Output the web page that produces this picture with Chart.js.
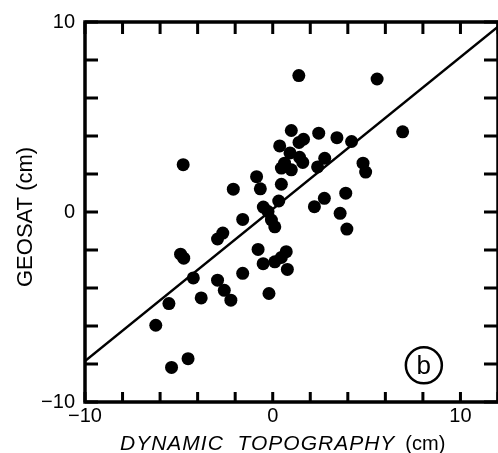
<!DOCTYPE html>
<html>
<head>
<meta charset="utf-8">
<title>GEOSAT vs dynamic topography</title>
<script src="https://cdn.jsdelivr.net/npm/chart.js@4.4.1/dist/chart.umd.min.js"></script>
<style>
  html, body { margin: 0; padding: 0; background: #fff; }
  #chart { display: block; }
</style>
</head>
<body>
<canvas id="chart" width="498" height="453"></canvas>
<script>
// dynamic topography (cm) vs GEOSAT (cm)
const dynTopo = [
  -4.77, -2.10, -0.86, -0.66, 0.46, 0.46, -1.60, -0.25, -0.50, -0.07,
  0.11, -2.66, -2.94, -4.91, -4.74, -0.78, -0.51, 0.11, -1.60, -4.23,
  -2.94, -2.58, -2.23, -3.81, -5.53, -6.23, -0.20, -4.51, -5.39, 0.72,
  0.46, 0.78, 0.99, 1.40, 1.64, 2.45, 3.42, 4.20, 6.92, 1.39,
  5.56, 0.37, 0.92, 0.63, 0.99, 1.43, 1.60, 2.77, 2.39, 4.81,
  4.95, 0.32, 2.22, 2.75, 3.89, 3.59, 3.95
];
const geosat = [
  2.49, 1.20, 1.86, 1.22, 2.31, 1.46, -0.39, 0.02, 0.26, -0.42,
  -0.78, -1.11, -1.42, -2.22, -2.43, -1.97, -2.72, -2.62, -3.23, -3.47,
  -3.59, -4.12, -4.64, -4.52, -4.82, -5.96, -4.29, -7.72, -8.18, -2.09,
  -2.39, -3.02, 4.29, 3.66, 3.83, 4.15, 3.91, 3.71, 4.22, 7.18,
  7.00, 3.48, 3.11, 2.57, 2.22, 2.88, 2.61, 2.83, 2.37, 2.57,
  2.10, 0.58, 0.28, 0.72, 0.99, -0.07, -0.90
];

// fitted line end points
const fitX = [-10, 12];
const fitY = [-7.85, 9.75];

const xRange = [-10, 12];
const yRange = [-10, 10];
const labeledTicks = [-10, 0, 10];

const xTitle = 'DYNAMIC  TOPOGRAPHY';
const yTitle = 'GEOSAT (cm)';
const unitText = '(cm)';
const panelLetter = 'b';
const panelPos = { x: 8.05, y: -8.07 };

const FONT = '"Liberation Sans", Arial, sans-serif';

function tickLabel(value) {
  if (!labeledTicks.includes(value)) return '';
  return value < 0 ? '\u2212' + Math.abs(value) : String(value);
}

// frame with inward ticks, axis titles and the circled panel letter
const framePlugin = {
  id: 'frame',
  afterDraw(chart) {
    const { ctx, chartArea: a, scales } = chart;
    const xs = scales.x, ys = scales.y;
    ctx.save();
    ctx.strokeStyle = '#000';
    ctx.lineWidth = 3.5;
    ctx.strokeRect(a.left, a.top, a.right - a.left, a.bottom - a.top);

    ctx.lineWidth = 3;
    ctx.beginPath();
    xs.ticks.forEach(t => {
      const px = xs.getPixelForValue(t.value);
      ctx.moveTo(px, a.bottom); ctx.lineTo(px, a.bottom - 10);
      ctx.moveTo(px, a.top); ctx.lineTo(px, a.top + 12);
    });
    ys.ticks.forEach(t => {
      const py = ys.getPixelForValue(t.value);
      ctx.moveTo(a.left, py); ctx.lineTo(a.left + 13, py);
      ctx.moveTo(a.right, py); ctx.lineTo(a.right - 14, py);
    });
    ctx.stroke();

    // x title: italic words, upright unit
    ctx.fillStyle = '#000';
    ctx.textBaseline = 'alphabetic';
    ctx.textAlign = 'left';
    ctx.font = 'italic 21px ' + FONT;
    if ('letterSpacing' in ctx) ctx.letterSpacing = '1px';
    ctx.fillText(xTitle, 120, 450);
    const w = ctx.measureText(xTitle).width;
    ctx.font = '20px ' + FONT;
    if ('letterSpacing' in ctx) ctx.letterSpacing = '0px';
    ctx.fillText(unitText, 120 + w + 10, 450);

    // y title, rotated
    ctx.save();
    ctx.translate(32, 287);
    ctx.rotate(-Math.PI / 2);
    ctx.font = '22px ' + FONT;
    ctx.fillText(yTitle, 0, 0);
    ctx.restore();

    // circled panel letter
    const cx = xs.getPixelForValue(panelPos.x);
    const cy = ys.getPixelForValue(panelPos.y);
    ctx.lineWidth = 2.5;
    ctx.beginPath();
    ctx.arc(cx, cy, 18, 0, Math.PI * 2);
    ctx.stroke();
    ctx.font = '26px ' + FONT;
    ctx.textAlign = 'center';
    ctx.textBaseline = 'middle';
    ctx.fillText(panelLetter, cx, cy + 1);
    ctx.restore();
  }
};

const ctx = document.getElementById('chart').getContext('2d');
new Chart(ctx, {
  type: 'scatter',
  data: {
    datasets: [
      {
        label: 'GEOSAT',
        data: dynTopo.map((x, i) => ({ x: x, y: geosat[i] })),
        pointRadius: 6.5,
        pointBackgroundColor: '#000',
        pointBorderWidth: 0,
        borderColor: '#000'
      },
      {
        type: 'line',
        label: 'fit',
        data: fitX.map((x, i) => ({ x: x, y: fitY[i] })),
        borderColor: '#000',
        borderWidth: 2.5,
        pointRadius: 0,
        fill: false
      }
    ]
  },
  options: {
    responsive: false,
    animation: false,
    devicePixelRatio: 1,
    layout: { autoPadding: false, padding: { top: 22, right: 0, bottom: 0, left: 0 } },
    plugins: {
      legend: { display: false },
      tooltip: { enabled: false }
    },
    scales: {
      x: {
        type: 'linear',
        min: xRange[0],
        max: xRange[1],
        grid: { display: false, drawTicks: false },
        border: { display: false },
        ticks: {
          stepSize: 2,
          autoSkip: false,
          maxRotation: 0,
          padding: 2,
          color: '#000',
          font: { size: 20, family: FONT },
          callback: v => tickLabel(v)
        },
        afterFit: s => { s.height = 51; s.paddingLeft = 0; s.paddingRight = 0; }
      },
      y: {
        type: 'linear',
        min: yRange[0],
        max: yRange[1],
        grid: { display: false, drawTicks: false },
        border: { display: false },
        ticks: {
          stepSize: 2,
          autoSkip: false,
          padding: 10,
          color: '#000',
          font: { size: 20, family: FONT },
          callback: v => tickLabel(v)
        },
        afterFit: s => { s.width = 85; }
      }
    }
  },
  plugins: [framePlugin]
});
</script>
</body>
</html>
